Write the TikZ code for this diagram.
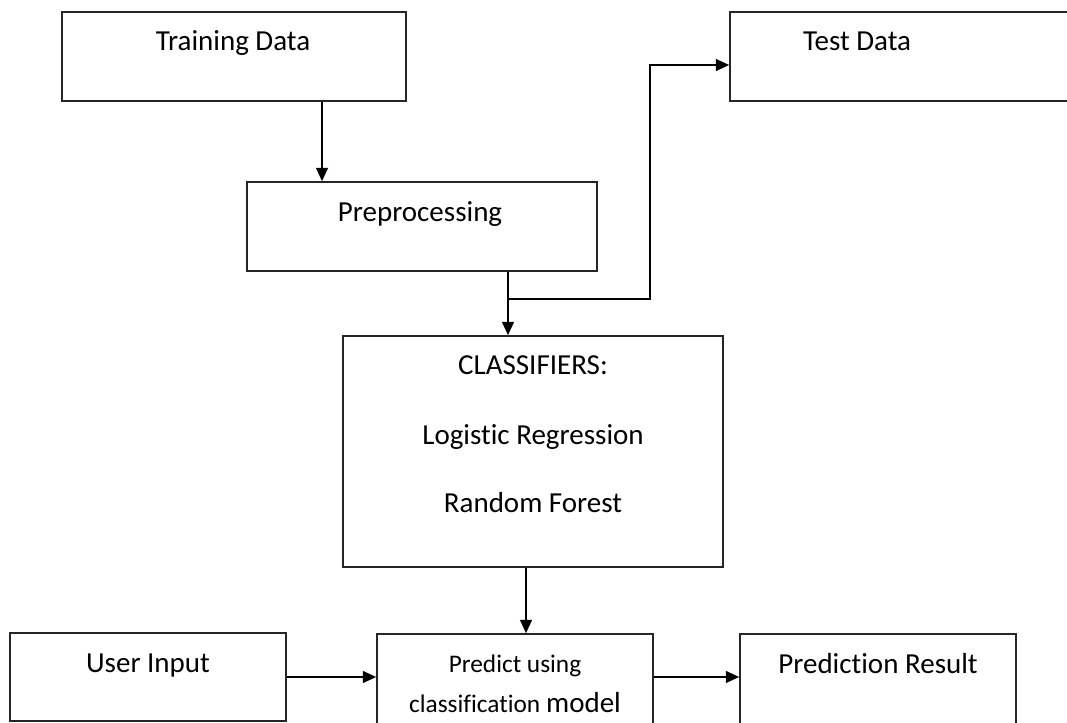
\documentclass[tikz,border=0pt]{standalone}
\usepackage{fontspec}
\setmainfont{Carlito}[Ligatures=NoCommon]
\usetikzlibrary{arrows.meta}
\begin{document}
\begin{tikzpicture}[x=0.75pt,y=-0.75pt]
    \tikzstyle{every node}+=[inner sep=0pt]
    \tikzstyle{box}=[draw=black!85, line width=1.3pt, rectangle]
    \tikzstyle{big}=[anchor=base, font=\fontsize{21.75}{26}\selectfont]
    \tikzstyle{small}=[anchor=base, font=\fontsize{19}{23}\selectfont]
    \tikzstyle{arr}=[black, line width=1pt, -{Triangle[length=10pt,width=9pt]}]
    \clip (0,0) rectangle (1067,723);
    \node [box, minimum width=258pt, minimum height=66.75pt] (train) at (234,56.5) {};
    \node [big] (trainlbl) at (233,51) {Training Data};
    \node [box, minimum width=270pt, minimum height=66.75pt] (test) at (910,56.5) {};
    \node [big] (testlbl) at (857,51) {Test Data};
    \node [box, minimum width=262.5pt, minimum height=66.75pt] (prep) at (422,226.5) {};
    \node [big] (preplbl) at (420,222) {Preprocessing};
    \node [box, minimum width=285pt, minimum height=173.25pt] (clf) at (533,451.5) {};
    \node [big] (clflbl) at (533,375) {CLASSIFIERS:};
    \node [big] (lrlbl) at (533,444) {Logistic Regression};
    \node [big] (rflbl) at (533,512) {Random Forest};
    \node [box, minimum width=207pt, minimum height=66pt] (user) at (148,677) {};
    \node [big] (userlbl) at (148,672) {User Input};
    \node [box, minimum width=207pt, minimum height=94.5pt] (pred) at (515,697) {};
    \node [small] (predlbl) at (515,672) {Predict using};
    \node [small] (modellbl) at (515,712) {classification {\fontsize{21.75}{26}\selectfont model}};
    \node [box, minimum width=207pt, minimum height=94.5pt] (res) at (878,697) {};
    \node [big] (reslbl) at (878,673) {Prediction Result};
    \coordinate (split) at (508,299);
    \draw [arr] (322,0 |- train.south) -- (322,0 |- prep.north);
    \draw [arr] (508,0 |- prep.south) -- (508,0 |- clf.north);
    \draw [arr] (split) -- (650,299) -- (650,65) -- (650,65 -| test.west);
    \draw [arr] (526,0 |- clf.south) -- (526,0 |- pred.north);
    \draw [arr] (user.east) -- (user.east -| pred.west);
    \draw [arr] (pred.east |- user.east) -- (res.west |- user.east);
\end{tikzpicture}
\end{document}
